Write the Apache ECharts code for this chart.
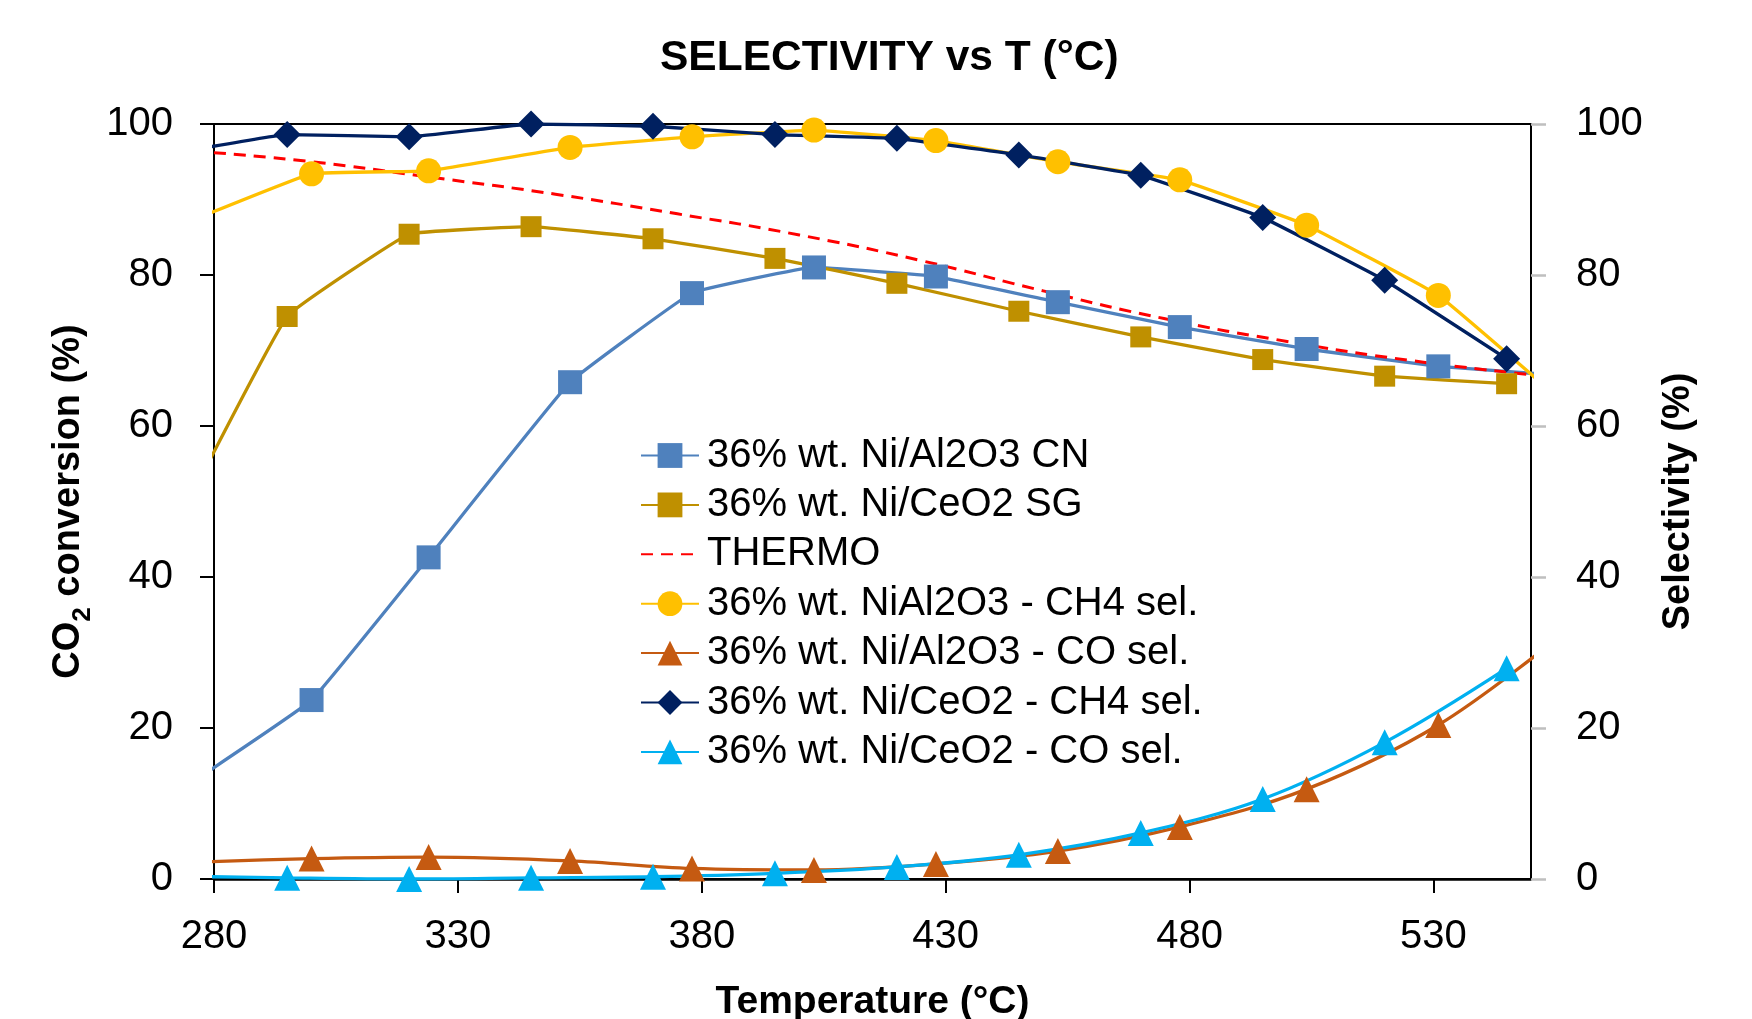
<!DOCTYPE html>
<html><head><meta charset="utf-8">
<script src="https://cdn.jsdelivr.net/npm/echarts@6/dist/echarts.min.js"></script>
<style>html,body{margin:0;padding:0;background:#fff}#chart{width:1752px;height:1019px}</style>
</head><body><div id="chart"></div>
<script>
// ---- data ----
const xTicks = [280, 330, 380, 430, 480, 530];
const yTicks = [0, 20, 40, 60, 80, 100];
// temperatures (°C) of the two catalyst runs and of the thermodynamic curve
const tempCe = [270, 295, 320, 345, 370, 395, 420, 445, 470, 495, 520, 545];
const tempAl = [275, 300, 324, 353, 378, 403, 428, 453, 478, 504, 531, 556];
const tempThermo = [280, 300, 325, 350, 375, 400, 425, 450, 475, 500, 525, 550];
// CO2 conversion (%)
const convAlCN = [12.6, 23.7, 42.6, 65.8, 77.6, 81.0, 79.8, 76.4, 73.1, 70.2, 67.9, 66.7];
const convCeSG = [44.0, 74.5, 85.4, 86.4, 84.8, 82.2, 78.9, 75.2, 71.8, 68.8, 66.6, 65.6];
const convThermo = [96.2, 95.0, 92.9, 90.7, 88.1, 85.3, 81.9, 77.9, 74.2, 71.2, 68.7, 66.8];
// selectivity (%)
const selAlCH4 = [87.1, 93.4, 93.8, 96.9, 98.3, 99.2, 97.8, 95.0, 92.6, 86.6, 77.3, 63.5];
const selAlCO = [2.2, 2.7, 2.9, 2.4, 1.4, 1.2, 2.0, 3.7, 6.9, 11.9, 20.4, 32.2];
const selCeCH4 = [95.9, 98.6, 98.3, 100.0, 99.7, 98.6, 98.1, 95.9, 93.2, 87.6, 79.3, 68.9];
const selCeCO = [0.4, 0.15, 0.0, 0.15, 0.3, 0.75, 1.6, 3.2, 6.1, 10.6, 18.1, 27.9];

const seriesNames = [
  '36% wt. Ni/Al2O3 CN',
  '36% wt. Ni/CeO2 SG',
  'THERMO',
  '36% wt. NiAl2O3 - CH4 sel.',
  '36% wt. Ni/Al2O3 - CO sel.',
  '36% wt. Ni/CeO2 - CH4 sel.',
  '36% wt. Ni/CeO2 - CO sel.'
];

function pairs(xs, ys) { return xs.map((x, i) => [x, ys[i]]); }

const FONT = "'Liberation Sans', Arial, sans-serif";

function lineSeries(name, xs, ys, color, symbol, size, axis, extra) {
  return Object.assign({
    name: name,
    type: 'line',
    yAxisIndex: axis,
    data: pairs(xs, ys),
    symbol: symbol,
    symbolSize: size,
    smooth: 0.08,
    clip: true,
    itemStyle: { color: color, opacity: 1 },
    lineStyle: { color: color, width: 3.3 },
    emphasis: { disabled: true },
    animation: false
  }, extra || {});
}

const legendData = seriesNames.map(n => n === 'THERMO'
  ? { name: n, itemStyle: { color: 'rgba(0,0,0,0)', borderWidth: 0 } }
  : { name: n });

const chart = echarts.init(document.getElementById('chart'), null, { renderer: 'canvas' });
chart.setOption({
  backgroundColor: '#ffffff',
  animation: false,
  title: {
    text: 'SELECTIVITY vs T (°C)',
    left: 655, top: 32,
    textStyle: { fontFamily: FONT, fontWeight: 'bold', fontSize: 42.5, color: '#000' }
  },
  grid: {
    left: 214, right: 221, top: 124, bottom: 140,
    containLabel: false, outerBoundsMode: 'none',
    show: true, borderColor: '#000', borderWidth: 2, backgroundColor: 'transparent'
  },
  legend: {
    orient: 'vertical',
    left: 640, top: 435.5,
    padding: 0,
    itemWidth: 58, itemHeight: 31, itemGap: 9.4,
    data: legendData,
    textStyle: { fontFamily: FONT, fontSize: 40, color: '#000', lineHeight: 40, padding: [0, 0, 0, 3] },
    selectedMode: false
  },
  xAxis: {
    type: 'value', min: 280, max: 550, interval: 50,
    name: 'Temperature (°C)', nameLocation: 'middle', nameGap: 104,
    nameTextStyle: { fontFamily: FONT, fontWeight: 'bold', fontSize: 39, color: '#000' },
    axisLine: { show: true, onZero: false, lineStyle: { color: '#000', width: 2.5 } },
    axisTick: { show: true, inside: false, length: 14, customValues: xTicks, lineStyle: { color: '#000', width: 2 } },
    axisLabel: { customValues: xTicks, margin: 38, fontFamily: FONT, fontSize: 40, color: '#000' },
    splitLine: { show: false }
  },
  yAxis: [{
    type: 'value', min: 0, max: 100, interval: 20, position: 'left',
    name: '{a|CO}{s|2}{a| conversion (%)}', nameLocation: 'middle', nameRotate: 90, nameGap: 111,
    nameTextStyle: {
      fontFamily: FONT, fontWeight: 'bold', fontSize: 38, color: '#000',
      rich: {
        a: { fontFamily: FONT, fontWeight: 'bold', fontSize: 38, color: '#000', lineHeight: 46, verticalAlign: 'top' },
        s: { fontFamily: FONT, fontWeight: 'bold', fontSize: 26, color: '#000', lineHeight: 46, verticalAlign: 'bottom' }
      }
    },
    axisLine: { show: true, onZero: false, lineStyle: { color: '#000', width: 2 } },
    axisTick: { show: true, inside: false, length: 14, customValues: yTicks, lineStyle: { color: '#000', width: 2 } },
    axisLabel: { customValues: yTicks, margin: 41, fontFamily: FONT, fontSize: 40, color: '#000' },
    splitLine: { show: false }
  }, {
    type: 'value', min: 0, max: 100, interval: 20, position: 'right',
    name: 'Selectivity (%)', nameLocation: 'middle', nameRotate: 90, nameGap: 129,
    nameTextStyle: { fontFamily: FONT, fontWeight: 'bold', fontSize: 38, color: '#000' },
    axisLine: { show: true, onZero: false, lineStyle: { color: '#000', width: 2 } },
    axisTick: { show: true, inside: false, length: 15, customValues: yTicks, lineStyle: { color: '#BFBFBF', width: 2.5 } },
    axisLabel: { customValues: yTicks, margin: 45, fontFamily: FONT, fontSize: 40, color: '#000' },
    splitLine: { show: false }
  }],
  series: [
    lineSeries(seriesNames[0], tempAl, convAlCN, '#4F81BD', 'rect', 24, 0),
    lineSeries(seriesNames[1], tempCe, convCeSG, '#BF9000', 'rect', 21, 0),
    lineSeries(seriesNames[2], tempThermo, convThermo, '#FF0000', 'none', 0, 0,
      { smooth: 0.5, lineStyle: { color: '#FF0000', width: 3, type: [12, 8] } }),
    lineSeries(seriesNames[3], tempAl, selAlCH4, '#FFC000', 'circle', 25, 1),
    lineSeries(seriesNames[4], tempAl, selAlCO, '#C55A11', 'triangle', 26, 1, { smooth: 0.35 }),
    lineSeries(seriesNames[5], tempCe, selCeCH4, '#002060', 'diamond', 27, 1),
    lineSeries(seriesNames[6], tempCe, selCeCO, '#00B0F0', 'triangle', 26, 1, { smooth: 0.35 })
  ]
});
</script>
</body></html>
